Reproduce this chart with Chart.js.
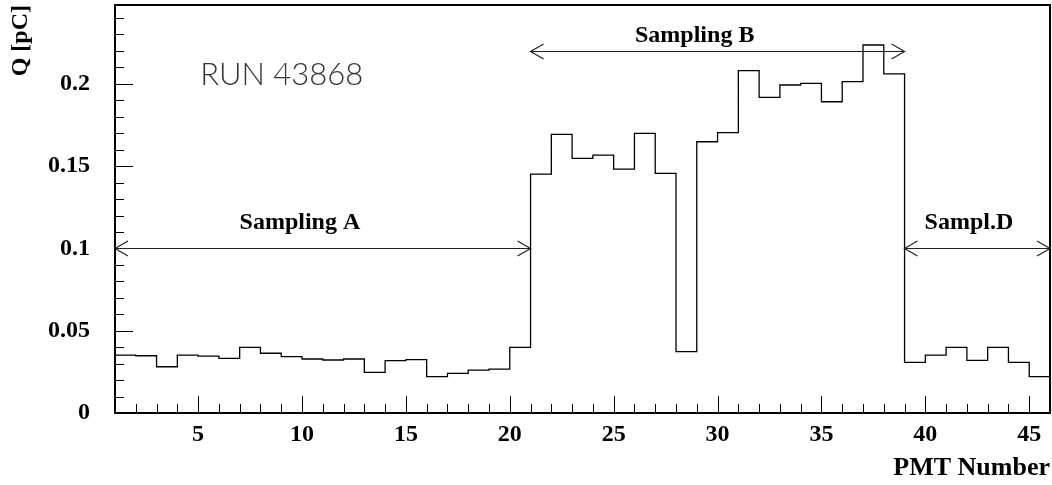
<!DOCTYPE html>
<html>
<head>
<meta charset="utf-8">
<script src="https://cdn.jsdelivr.net/npm/chart.js@4.4.1/dist/chart.umd.min.js"></script>
<style>
  html, body { margin: 0; padding: 0; background: #fff; }
</style>
</head>
<body>
<canvas id="pmtChart" width="1052" height="485"></canvas>
<script>
// PMT channel numbers (bin left edges) and mean charge per PMT
const pmtNumbers = [1, 2, 3, 4, 5, 6, 7, 8, 9, 10, 11, 12, 13, 14, 15, 16, 17, 18, 19, 20,
                    21, 22, 23, 24, 25, 26, 27, 28, 29, 30, 31, 32, 33, 34, 35, 36, 37, 38, 39, 40,
                    41, 42, 43, 44, 45];
const charge = [0.0352, 0.0348, 0.0281, 0.0352, 0.0346, 0.0332, 0.0399, 0.0363, 0.0342, 0.0328,
                0.0322, 0.0328, 0.0247, 0.0318, 0.0324, 0.0221, 0.0241, 0.0261, 0.0267, 0.0399,
                0.1452, 0.1693, 0.1547, 0.1567, 0.1482, 0.1699, 0.1456, 0.0373, 0.1648, 0.1703,
                0.2080, 0.1918, 0.1993, 0.2003, 0.1891, 0.2013, 0.2236, 0.2061, 0.0308, 0.0352,
                0.0399, 0.0320, 0.0399, 0.0308, 0.0221];
const xTicks = [5, 10, 15, 20, 25, 30, 35, 40, 45];
const yTicks = [0, 0.05, 0.1, 0.15, 0.2];
const xMin = 1, xMax = 46;
const yMax = 0.2479;

// sampling regions drawn as double arrows (data coordinates)
const samplings = [
  { name: 'Sampling A', from: 1, to: 21, at: 0.1, textX: 9.9, textY: 0.112 },
  { name: 'Sampling B', from: 21, to: 39, at: 0.2198, textX: 28.9, textY: 0.2252 },
  { name: 'Sampl.D', from: 39, to: 46, at: 0.1, textX: 42.1, textY: 0.112 }
];
const runLabel = { text: 'RUN 43868', x: 5.1, y: 0.1993 };

// histogram outline: close the last bin at its right edge
const points = pmtNumbers.map((n, i) => ({ x: n, y: charge[i] }));
points.push({ x: xMax, y: charge[charge.length - 1] });

const serifBold = { family: '"Liberation Serif", "Times New Roman", serif', weight: 'bold', size: 24 };

function arrowHead(ctx, px, py, dir) {
  ctx.beginPath();
  ctx.moveTo(px + dir * 13, py - 7.5);
  ctx.lineTo(px, py);
  ctx.lineTo(px + dir * 13, py + 7.5);
  ctx.stroke();
}

const decor = {
  id: 'decor',
  afterDatasetsDraw(chart) {
    const { ctx, chartArea: a, scales: { x, y } } = chart;
    ctx.save();
    ctx.strokeStyle = '#000';
    ctx.lineWidth = 1;
    // inward ticks
    for (let k = xMin + 1; k < xMax; k++) {
      const px = Math.round(x.getPixelForValue(k)) + 0.5;
      const len = k % 5 === 0 ? 17 : 9;
      ctx.beginPath();
      ctx.moveTo(px, a.bottom);
      ctx.lineTo(px, a.bottom - len);
      ctx.stroke();
    }
    for (let j = 1; j <= 24; j++) {
      const py = Math.round(y.getPixelForValue(j / 100)) + 0.5;
      const len = j % 5 === 0 ? 18 : 9;
      ctx.beginPath();
      ctx.moveTo(a.left, py);
      ctx.lineTo(a.left + len, py);
      ctx.stroke();
    }
    // frame
    ctx.lineWidth = 2;
    ctx.strokeRect(a.left, a.top, a.right - a.left, a.bottom - a.top);

    // sampling arrows
    ctx.lineWidth = 1.2;
    ctx.strokeStyle = '#222';
    ctx.fillStyle = '#000';
    ctx.font = 'bold 24px "Liberation Serif", "Times New Roman", serif';
    ctx.textAlign = 'center';
    ctx.textBaseline = 'alphabetic';
    samplings.forEach(s => {
      const x1 = x.getPixelForValue(s.from);
      const x2 = x.getPixelForValue(s.to);
      const py = Math.round(y.getPixelForValue(s.at)) + 0.5;
      ctx.beginPath();
      ctx.moveTo(x1, py);
      ctx.lineTo(x2, py);
      ctx.stroke();
      arrowHead(ctx, x1, py, 1);
      arrowHead(ctx, x2, py, -1);
      ctx.fillText(s.name, x.getPixelForValue(s.textX), y.getPixelForValue(s.textY));
    });

    // run number
    ctx.font = '300 31px "Lato", "Open Sans", sans-serif';
    ctx.fillStyle = '#333';
    ctx.textAlign = 'left';
    ctx.fillText(runLabel.text, x.getPixelForValue(runLabel.x), y.getPixelForValue(runLabel.y));
    ctx.restore();
  }
};

new Chart(document.getElementById('pmtChart'), {
  type: 'line',
  data: {
    datasets: [{
      data: points,
      stepped: 'before',
      borderColor: '#000',
      borderWidth: 1.3,
      pointRadius: 0,
      fill: false
    }]
  },
  options: {
    responsive: false,
    animation: false,
    devicePixelRatio: 1,
    layout: { padding: { top: 5, right: 2, left: 0, bottom: 0 } },
    plugins: { legend: { display: false }, tooltip: { enabled: false } },
    scales: {
      x: {
        type: 'linear',
        min: xMin,
        max: xMax,
        afterBuildTicks: s => { s.ticks = xTicks.map(v => ({ value: v })); },
        afterFit: s => { s.height = 72; s.paddingLeft = 0; s.paddingRight = 0; },
        grid: { display: false, drawTicks: false },
        border: { display: false },
        ticks: { font: serifBold, color: '#000', padding: 7, maxRotation: 0, autoSkip: false },
        title: {
          display: true, text: 'PMT Number', align: 'end', color: '#000',
          font: { family: serifBold.family, weight: 'bold', size: 26 },
          padding: { top: 0, bottom: 1 }
        }
      },
      y: {
        type: 'linear',
        min: 0,
        max: yMax,
        afterBuildTicks: s => { s.ticks = yTicks.map(v => ({ value: v })); },
        afterFit: s => { s.width = 115; s.paddingTop = 0; s.paddingBottom = 0; },
        grid: { display: false, drawTicks: false },
        border: { display: false },
        ticks: {
          font: serifBold, color: '#000', padding: 25,
          callback: v => String(Math.round(v * 100) / 100)
        },
        title: {
          display: true, text: 'Q [pC]', align: 'end', color: '#000',
          font: serifBold,
          padding: { top: 6, bottom: 0 }
        }
      }
    }
  },
  plugins: [decor]
});
</script>
</body>
</html>
